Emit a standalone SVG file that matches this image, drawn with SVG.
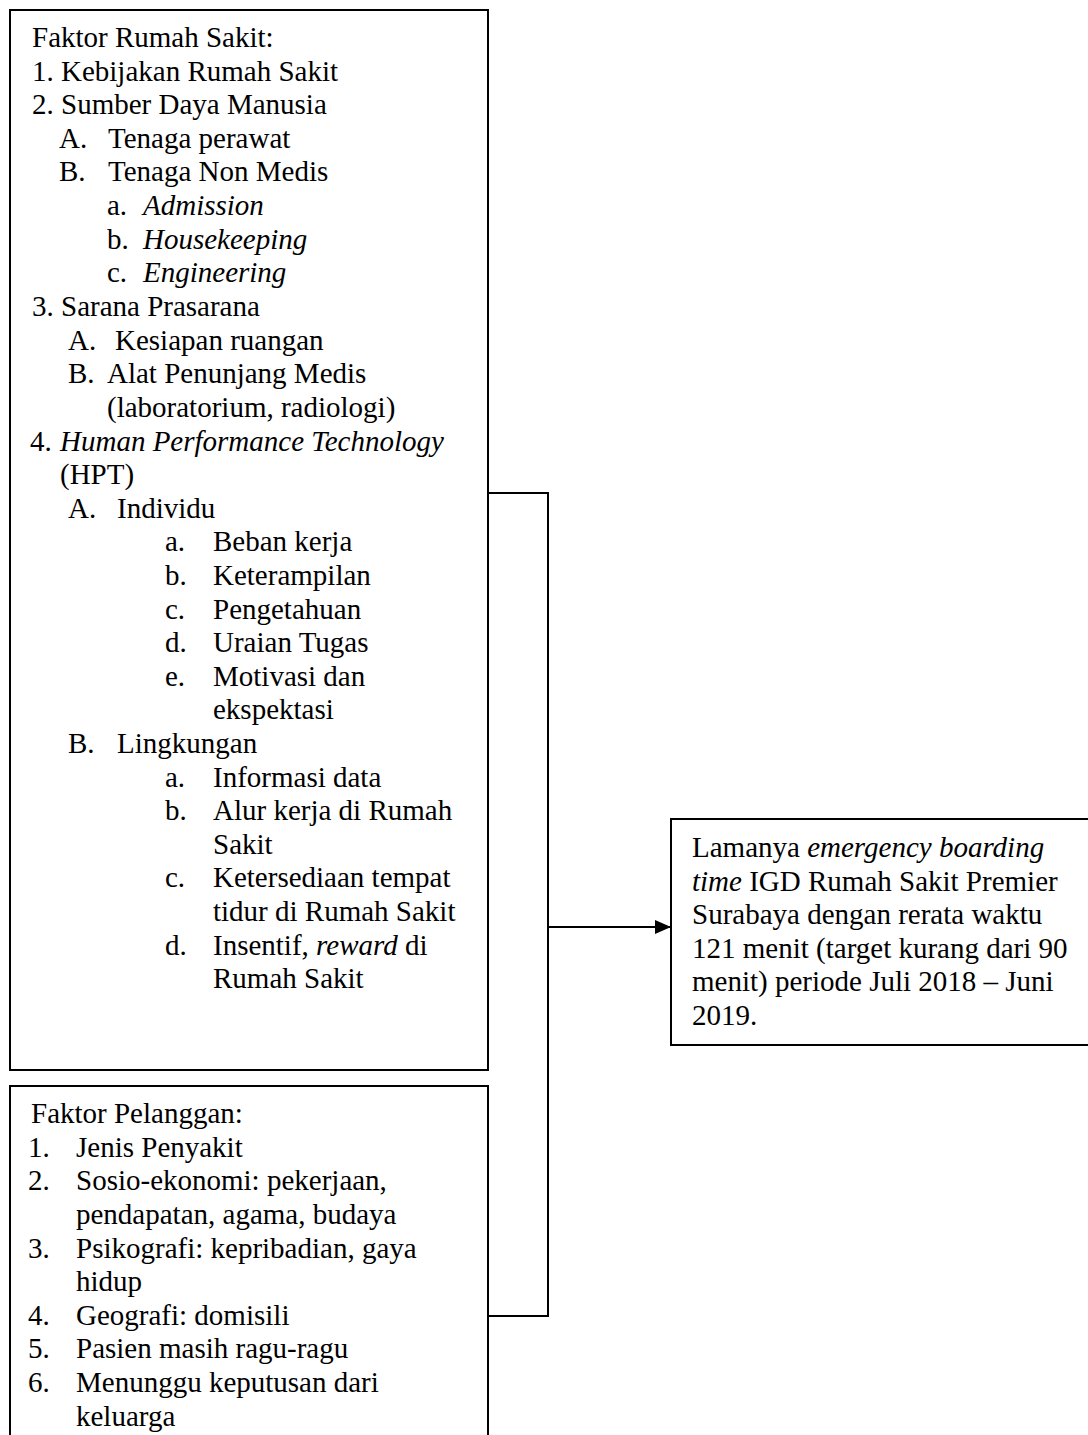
<svg xmlns="http://www.w3.org/2000/svg" width="1088" height="1435" viewBox="0 0 1088 1435">
<style>
text{font-family:"Liberation Serif","Times New Roman",serif;font-size:29px;fill:#000}
.i{font-style:italic}
.box{fill:#fff;stroke:#000;stroke-width:2}
.con{fill:none;stroke:#000;stroke-width:2}
</style>
<defs>
<marker id="arr" markerWidth="16" markerHeight="14" refX="15" refY="7" orient="auto" markerUnits="userSpaceOnUse">
<path d="M0,0 L16,7 L0,14 Z" fill="#000"/>
</marker>
</defs>
<rect width="1088" height="1435" fill="#fff"/>
<g id="connectors">
<polyline class="con" points="488,493 548,493 548,1316 488,1316"/>
<line class="con" x1="548" y1="927" x2="670" y2="927" marker-end="url(#arr)"/>
</g>
<g id="node-rumah-sakit">
<rect class="box" x="10" y="10" width="478" height="1060"/>
<text x="32" y="47">Faktor Rumah Sakit:</text>
<text x="32" y="81">1. Kebijakan Rumah Sakit</text>
<text x="32" y="114">2. Sumber Daya Manusia</text>
<text x="59" y="148">A.</text><text x="108" y="148">Tenaga perawat</text>
<text x="59" y="181">B.</text><text x="108" y="181">Tenaga Non Medis</text>
<text x="107" y="215">a.</text><text x="143" y="215" class="i">Admission</text>
<text x="107" y="249">b.</text><text x="143" y="249" class="i">Housekeeping</text>
<text x="107" y="282">c.</text><text x="143" y="282" class="i">Engineering</text>
<text x="32" y="316">3. Sarana Prasarana</text>
<text x="68" y="350">A.</text><text x="115" y="350">Kesiapan ruangan</text>
<text x="68" y="383">B.</text><text x="107" y="383">Alat Penunjang Medis</text>
<text x="107" y="417">(laboratorium, radiologi)</text>
<text x="30" y="451">4.</text><text x="60" y="451" class="i">Human Performance Technology</text>
<text x="60" y="484">(HPT)</text>
<text x="68" y="518">A.</text><text x="117" y="518">Individu</text>
<text x="165" y="551">a.</text><text x="213" y="551">Beban kerja</text>
<text x="165" y="585">b.</text><text x="213" y="585">Keterampilan</text>
<text x="165" y="619">c.</text><text x="213" y="619">Pengetahuan</text>
<text x="165" y="652">d.</text><text x="213" y="652">Uraian Tugas</text>
<text x="165" y="686">e.</text><text x="213" y="686">Motivasi dan</text>
<text x="213" y="719">ekspektasi</text>
<text x="68" y="753">B.</text><text x="117" y="753">Lingkungan</text>
<text x="165" y="787">a.</text><text x="213" y="787">Informasi data</text>
<text x="165" y="820">b.</text><text x="213" y="820">Alur kerja di Rumah</text>
<text x="213" y="854">Sakit</text>
<text x="165" y="887">c.</text><text x="213" y="887">Ketersediaan tempat</text>
<text x="213" y="921">tidur di Rumah Sakit</text>
<text x="165" y="955">d.</text><text x="213" y="955">Insentif, <tspan class="i">reward</tspan> di</text>
<text x="213" y="988">Rumah Sakit</text>
</g>
<g id="node-pelanggan">
<rect class="box" x="10" y="1086" width="478" height="360"/>
<text x="31" y="1123">Faktor Pelanggan:</text>
<text x="28" y="1157">1.</text><text x="76" y="1157">Jenis Penyakit</text>
<text x="28" y="1190">2.</text><text x="76" y="1190">Sosio-ekonomi: pekerjaan,</text>
<text x="76" y="1224">pendapatan, agama, budaya</text>
<text x="28" y="1258">3.</text><text x="76" y="1258">Psikografi: kepribadian, gaya</text>
<text x="76" y="1291">hidup</text>
<text x="28" y="1325">4.</text><text x="76" y="1325">Geografi: domisili</text>
<text x="28" y="1358">5.</text><text x="76" y="1358">Pasien masih ragu-ragu</text>
<text x="28" y="1392">6.</text><text x="76" y="1392">Menunggu keputusan dari</text>
<text x="76" y="1426">keluarga</text>
</g>
<g id="node-boarding-time">
<rect class="box" x="671" y="819" width="430" height="226"/>
<text x="692" y="857">Lamanya <tspan class="i">emergency boarding</tspan></text>
<text x="692" y="891"><tspan class="i">time</tspan> IGD Rumah Sakit Premier</text>
<text x="692" y="924">Surabaya dengan rerata waktu</text>
<text x="692" y="958">121 menit (target kurang dari 90</text>
<text x="692" y="991">menit) periode Juli 2018 – Juni</text>
<text x="692" y="1025">2019.</text>
</g>
</svg>
